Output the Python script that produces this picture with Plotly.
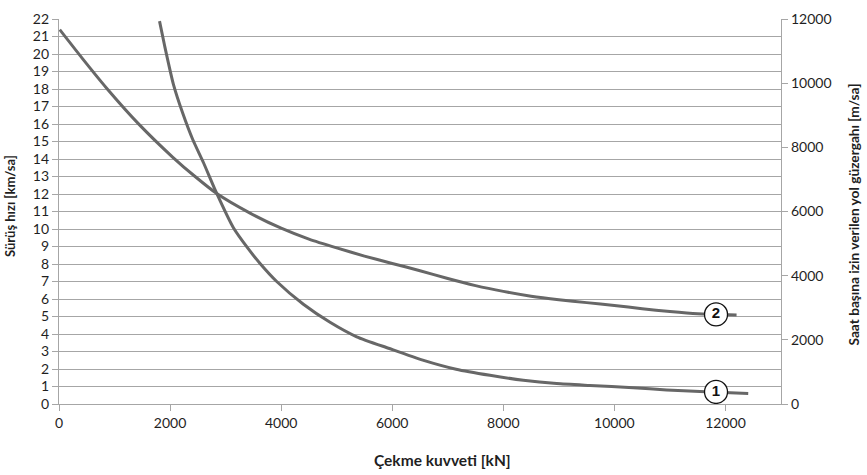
import plotly.graph_objects as go

# Çekme kuvveti [kN] vs. sürüş hızı [km/sa]  (curve 1)
force_1 = [1810, 1900, 2060, 2230, 2410, 2600, 2840, 3140, 3410, 3620, 3920, 4400, 4880,
           5360, 5950, 6550, 7150, 7760, 8360, 8960, 9560, 10340, 10940, 11540, 12410]
speed_1 = [21.88, 20.5, 18.27, 16.6, 15.1, 13.8, 12.03, 10.07, 8.86, 8.03, 7.0, 5.7, 4.67,
           3.84, 3.17, 2.51, 1.99, 1.64, 1.36, 1.17, 1.06, 0.93, 0.80, 0.71, 0.60]

# Çekme kuvveti [kN] vs. saat başına izin verilen yol [m/sa]  (curve 2)
force_2 = [13, 430, 850, 1450, 2050, 2450, 2840, 3440, 4000, 4500, 5000, 5500, 6000,
           6500, 7000, 7500, 8000, 8500, 9000, 9500, 10000, 10500, 11000, 11500, 12200]
route_2 = [11670, 10750, 9860, 8700, 7690, 7090, 6560, 5950, 5480, 5140, 4865, 4610, 4380,
           4155, 3910, 3690, 3510, 3360, 3250, 3160, 3070, 2970, 2880, 2810, 2775]

# curve number badges
badge_x = [11830, 11830]
badge_y1 = [0.69]
badge_y2 = [2793]

x_ticks = [0, 2000, 4000, 6000, 8000, 10000, 12000]
y_left_ticks = list(range(0, 23))
y_right_ticks = [0, 2000, 4000, 6000, 8000, 10000, 12000]

LINE = "#676767"
GRID = "#a6a6a6"
TEXT = "#1f1f1f"
FONT = "Lato"

fig = go.Figure()
fig.add_trace(go.Scatter(x=force_1, y=speed_1, mode="lines",
                         line=dict(color=LINE, width=3, shape="spline", smoothing=0.6),
                         yaxis="y", hoverinfo="skip"))
fig.add_trace(go.Scatter(x=force_2, y=route_2, mode="lines",
                         line=dict(color=LINE, width=3, shape="spline", smoothing=0.6),
                         yaxis="y2", hoverinfo="skip"))

badge_style = dict(mode="markers+text", textposition="middle center",
                   marker=dict(size=23, color="white", line=dict(color="#111111", width=1.3)),
                   textfont=dict(family="Liberation Sans", size=15, color="#111111"),
                   hoverinfo="skip")
fig.add_trace(go.Scatter(x=badge_x[:1], y=badge_y1, text=["<b>1</b>"], yaxis="y", **badge_style))
fig.add_trace(go.Scatter(x=badge_x[1:], y=badge_y2, text=["<b>2</b>"], yaxis="y2", **badge_style))

axis_common = dict(zeroline=False, showline=True, linecolor=GRID, linewidth=1.3,
                   ticks="outside", ticklen=6, tickcolor=GRID, tickwidth=1.3,
                   tickfont=dict(size=14, color=TEXT, family=FONT))

fig.update_layout(
    width=867, height=475,
    margin=dict(l=59, r=86, t=10, b=71),
    paper_bgcolor="white", plot_bgcolor="white",
    showlegend=False,
    font=dict(family=FONT, size=14, color=TEXT),
    xaxis=dict(range=[0, 13000], tickvals=x_ticks, ticktext=[str(v) for v in x_ticks],
               showgrid=False, **axis_common),
    yaxis=dict(range=[0, 22], tickvals=y_left_ticks, ticktext=[str(v) for v in y_left_ticks],
               showgrid=True, gridcolor=GRID, gridwidth=1.3, **axis_common),
    yaxis2=dict(range=[0, 12000], tickvals=y_right_ticks,
                ticktext=[str(v) for v in y_right_ticks], overlaying="y", side="right",
                showgrid=False, **axis_common),
    annotations=[
        dict(text="<b>Sürüş hızı [km/sa]</b>", xref="paper", yref="paper",
             x=-0.067, y=0.513, textangle=-90, showarrow=False,
             font=dict(size=13, family=FONT, color=TEXT), xanchor="center", yanchor="middle"),
        dict(text="<b>Saat başına izin verilen yol güzergahı [m/sa]</b>", xref="paper",
             yref="paper", x=1.101, y=0.492, textangle=-90, showarrow=False,
             font=dict(size=13.7, family=FONT, color=TEXT), xanchor="center", yanchor="middle"),
        dict(text="<b>Çekme kuvveti [kN]</b>", xref="paper", yref="paper",
             x=0.531, y=-0.145, showarrow=False,
             font=dict(size=15.5, family=FONT, color=TEXT), xanchor="center", yanchor="middle"),
    ],
)

fig.write_html("out.html")
